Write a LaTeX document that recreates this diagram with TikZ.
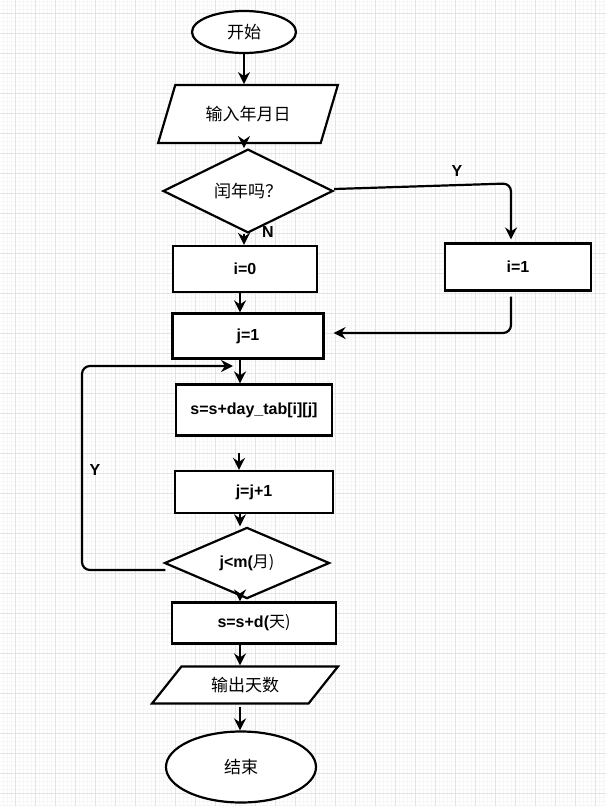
\documentclass[tikz,border=0pt]{standalone}
\usepackage{fontspec}
\setmainfont{Liberation Sans}
\newfontfamily\cjk{Noto Sans CJK SC}
\usetikzlibrary{shapes.geometric, arrows.meta}

\tikzset{
	every picture/.style={x=1pt, y=-1pt},
	shp/.style={draw, line width=2.2pt, fill=white, inner sep=0pt, font=\fontsize{16}{19}\selectfont\bfseries},
	procbox/.style={shp, rectangle},
	termnode/.style={shp, ellipse, font=\fontsize{17}{20}\selectfont\cjk},
	iobox/.style={shp, trapezium, trapezium stretches=true, font=\fontsize{17}{20}\selectfont\cjk},
	decide/.style={shp, diamond},
	flow/.style={line width=2.2pt, -{Stealth[length=12pt, width=12pt, inset=4pt]}},
	lbl/.style={font=\fontsize{16}{19}\selectfont\bfseries}
}

\begin{document}
\begin{tikzpicture}
		% background grid
		\fill[white] (0,0) rectangle (606,806);
		\useasboundingbox (0,0) rectangle (606,806);
		\foreach \k in {0,...,151}
			\draw[gray!7, line width=0.4pt] (3+4*\k,0) -- (3+4*\k,806);
		\foreach \k in {0,...,201}
			\draw[gray!7, line width=0.4pt] (0,1+4*\k) -- (606,1+4*\k);
		\foreach \k in {0,...,29}
			\draw[gray!22, line width=0.8pt] (15+20*\k,0) -- (15+20*\k,806);
		\foreach \k in {0,...,39}
			\draw[gray!22, line width=0.8pt] (0,13+20*\k) -- (606,13+20*\k);

		% shapes
		\node[termnode, minimum width=104pt, minimum height=42pt] (start) at (244,32) {开始};
		\node[iobox, trapezium left angle=57.5, trapezium right angle=122.5,
			minimum width=180pt, minimum height=58pt] (input) at (248,114) {输入年月日};
		\node[decide, minimum width=170pt, minimum height=57pt,
			font=\fontsize{17}{20}\selectfont\cjk] (leap) at (248,191) {闰年吗？};
		\node[procbox, minimum width=144pt, minimum height=46pt] (i0) at (245,269) {i=0};
		\node[procbox, minimum width=146pt, minimum height=47pt] (i1) at (518,267) {i=1};
		\node[procbox, minimum width=151pt, minimum height=45pt] (j1) at (248,336) {j=1};
		\node[procbox, minimum width=156pt, minimum height=51pt] (sum) at (254,410) {s=s+day\_tab[i][j]};
		\node[procbox, minimum width=158pt, minimum height=42pt] (inc) at (254,492) {j=j+1};
		\node[decide, minimum width=165pt, minimum height=50pt] (cmp) at (247,563) {j<m(\mdseries\cjk 月)};
		\node[procbox, minimum width=164pt, minimum height=41pt] (sd) at (254,623) {s=s+d(\mdseries\cjk 天)};
		\node[iobox, trapezium left angle=45, trapezium right angle=135,
			minimum width=187pt, minimum height=37pt] (output) at (245,685) {输出天数};
		\node[termnode, minimum width=150pt, minimum height=71pt] (stop) at (241,767) {结束};

		\coordinate (merge) at (233,366);

		% main column
		\draw[flow] (start.south) -- ++(0,30);
		\draw[flow] ([xshift=-4pt]input.south) -- ([xshift=-4pt]input.south |- leap.north);
		\draw[flow] ([xshift=-4pt]leap.south) -- ([xshift=-4pt]leap.south |- i0.north);
		\draw[flow] ([xshift=-5pt]i0.south) -- ([xshift=-5pt]i0.south |- j1.north);
		\draw[flow] ([xshift=-8pt]j1.south) -- ([xshift=-8pt]j1.south |- sum.north);
		\draw[flow] ([xshift=-15pt,yshift=-16pt]sum.south) -- ([xshift=-15pt]sum.south |- inc.north);
		\draw[flow] ([xshift=-14pt]inc.south) -- ([xshift=-14pt]inc.south |- cmp.north);
		\draw[flow] ([xshift=-7pt]cmp.south) -- ([xshift=-7pt]cmp.south |- sd.north);
		\draw[flow] ([xshift=-14pt]sd.south) -- ([xshift=-14pt]sd.south |- output.north);
		\draw[flow] ([xshift=-5pt,yshift=-2pt]output.south) -- ([xshift=-5pt]output.south |- stop.north);

		% branches
		\draw[flow, rounded corners=8pt] ([yshift=2pt]leap.east) -- ([xshift=-7pt,yshift=59pt]i1.north) -- ([xshift=-7pt,yshift=3pt]i1.north);
		\draw[flow, rounded corners=8pt] ([xshift=-7pt,yshift=-5pt]i1.south) |- ([xshift=9pt,yshift=3pt]j1.east);
		\draw[flow, rounded corners=8pt] ([xshift=2pt,yshift=-7pt]cmp.west) -| (82,400) |- (merge);

		% labels
		\node[lbl] (ylbl) at (457,171) {Y};
		\node[lbl] (nlbl) at (268,232) {N};
		\node[lbl] (yloop) at (95,470) {Y};
	\end{tikzpicture}
\end{document}
